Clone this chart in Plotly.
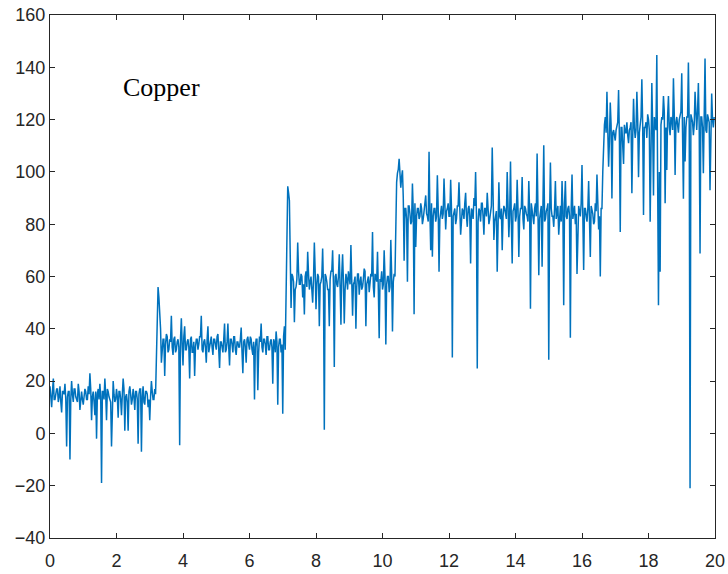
import numpy as np
import plotly.graph_objects as go

# Sampling interval of the recorded signal (s)
dt = 0.025

# Signal values, one segment per load step
seg_a = [18, 14, 10, 16, 21, 13, 13, 15, 17, 17, 12, 14, 18, 12, 8, 16, 16, 15, 19, 13,
         -5, 14, 16, 16, -10, 13, 20, 15, 12, 17, 17, 14, 13, 12, 19, 16, 9, 15, 16, 13,
         11, 14, 17, 16, 13, 13, 18, 15, 23, 17, 5, 14, 16, 12, 7, 16, -2, 15, 17, 13,
         19, 14, -19, 16, 16, 13, 21, 15, 5, 17, 16, 14, 13, 12, -5, 16, 20, 15, 12, 13,
         17, 14, 6, 16, 16, 13, 7, 15, 21, 17, 1, 14, 15, 12, 1, 16, 18, 15, 11, 13,
         17, 14, 9, 16, 16, 13, -4, 15, 17, 17, -7, 14, 18, 12, 11, 16, 16, 15, 10, 13,
         5, 14, 20, 16, 13, 13, 17, 15]
seg_b = [29, 45, 56, 52, 47, 40, 27, 33, 36, 36, 22, 34, 38, 37, 31, 32, 36, 35, 45, 33,
         30, 36, 37, 31, 32, 35, 36, 33, -4.5, 36, 44, 34, 26, 37, 41, 32, 32, 35, 36, 33,
         21, 36, 37, 31, 31, 35, 22, 33, 36, 36, 32, 34, 37, 37, 45, 32, 31, 35, 36, 33,
         27, 36, 41, 31, 33, 35, 37, 33, 30, 36, 36, 34, 32, 37, 38, 32, 25, 35, 35, 33,
         31, 36, 42, 31, 32, 35, 42, 33, 26, 36, 36, 34, 31, 37, 37, 32, 30, 35, 35, 33,
         33, 36, 40.5, 31, 23, 35, 36, 33, 27, 36, 37, 34, 32, 37, 36, 32, 30, 35, 13, 33,
         36, 36, 16.5, 31, 37, 35, 42, 33, 31, 36, 36, 34, 30, 37, 37, 32, 32, 35, 36, 33,
         19, 36, 35, 31, 39, 35, 11, 33, 36, 36, 31, 34, 7.5, 37, 41, 32]
seg_c = [62, 90, 94.5, 92, 89, 68, 48, 61, 60, 58, 42.5, 55, 56, 59, 73, 62, 57, 57, 61, 60,
         52, 57, 45.5, 60, 62, 56, 69.5, 61, 55, 58, 60, 55, 50, 59, 73, 62, 47.5, 57, 61, 60,
         41, 57, 58, 60, 70.7, 56, 1.4, 61, 60, 58, 55, 55, 41, 59, 62, 62, 70, 57, 25.4, 60,
         61, 57, 56, 60, 68.5, 56, 41.6, 61, 68.5, 58, 42, 55, 61, 59, 55, 62, 60, 57, 72, 60,
         45, 57, 58, 60, 40, 56, 61, 61, 53, 58, 60, 55, 56, 59, 63, 62, 41, 57, 59, 60,
         54, 57, 61, 60, 77, 56, 52, 61, 60, 58, 69.5, 55, 36.4, 59, 58, 62, 55, 57, 70, 60,
         34, 57, 60, 60, 54, 56, 74, 61, 39, 58, 61, 60]
seg_d = [84, 96, 99.5, 101, 105, 97, 94, 98, 100.6, 90, 66, 86, 86, 82, 58, 87, 87, 84, 80, 81,
         95.6, 85, 45.6, 88, 71.3, 83, 86, 86, 82, 83, 88, 86, 80, 82, 86, 87, 91, 84, 83, 81,
         107.7, 85, 70, 88, 67.6, 83, 86, 86, 81, 83, 98.7, 86, 61.8, 82, 85, 87, 82, 84, 97.5, 81,
         78, 85, 86, 88, 83, 83, 97, 86, 29, 83, 85, 86, 80, 82, 87, 87, 96, 84, 76, 81,
         86, 85, 82, 88, 92, 83, 79, 86, 87, 83, 65, 86, 85, 82, 90, 87, 100, 84, 24.8, 81,
         86, 85, 81, 88, 88, 83, 76, 86, 86, 83, 92, 86, 80, 82, 86, 87, 109.3, 84, 74, 81,
         83, 85, 61.8, 88, 96, 83, 82, 86, 70, 83, 87, 86, 83, 82, 100, 87, 75, 84, 104, 81,
         65, 85, 86, 88, 81, 83, 97, 86, 67.5, 83, 86, 86, 98, 82, 78, 87, 86, 84, 83, 81,
         96.5, 85, 47.7, 88, 85, 83, 80, 86, 88, 83, 107, 86, 60.5, 82, 86, 87, 63.7, 84, 110.2, 81,
         82, 85, 86, 88, 28.2, 83, 103.6, 86, 83, 83, 79, 86, 96.5, 82, 85, 87, 76, 84, 87, 81,
         96.5, 85, 49, 88, 96.5, 83, 82, 86, 87, 83, 36.6, 86, 99, 82, 84, 87, 80, 84, 61, 81,
         87, 85, 83, 88, 102.6, 83, 62.5, 86, 86, 83, 81, 86, 96.5, 82, 67.5, 87, 85, 84, 80, 81,
         88, 85, 99, 88, 78, 83, 60, 86]
seg_e = [86, 100, 111, 118, 121, 115, 130.6, 117, 102, 112, 126.5, 118, 89.8, 115, 116, 114, 112, 116, 118, 119,
         131.3, 113, 77, 117, 117, 112, 103, 118, 115, 115, 119, 114, 111, 116, 117, 119, 91.8, 113, 128, 117,
         113, 116, 130.6, 120, 98, 115, 118, 121, 135.4, 118, 83.5, 117, 117, 119, 113, 122, 120, 116, 80.9, 120,
         134, 117, 91, 121, 119, 116, 144.7, 110, 49, 100, 61.8, 118, 121, 120, 129, 123, 88, 117, 100.7, 121,
         129, 117, 114, 121, 120, 116, 135.8, 122, 98.8, 119, 121, 118, 115, 120, 122, 123, 137.7, 117, 89.7, 121,
         104, 117, 121, 121, 141.8, 118, -21, 122, 120, 119, 114, 118, 130.6, 120, 116, 123, 134, 117, 68.8, 121,
         121, 117, 99.5, 121, 143.4, 116, 115, 122, 120, 119, 93, 118, 130, 120, 117, 121]

y = np.array(seg_a + seg_b + seg_c + seg_d + seg_e, dtype=float)
t = np.round(np.arange(len(y)) * dt, 4)

x_ticks = [0, 2, 4, 6, 8, 10, 12, 14, 16, 18, 20]
y_ticks = [-40, -20, 0, 20, 40, 60, 80, 100, 120, 140, 160]
label_text = "Copper"

fig = go.Figure()
fig.add_trace(go.Scatter(x=t, y=y, mode="lines",
                         line=dict(color="#0072BD", width=1.5),
                         showlegend=False, hoverinfo="skip"))

axis_common = dict(showgrid=False, zeroline=False, showline=True, mirror="ticks",
                   linecolor="#262626", linewidth=1, ticks="inside", ticklen=5,
                   tickcolor="#262626", tickwidth=1, automargin=False,
                   tickfont=dict(family="Liberation Sans, Arial", size=18, color="#262626"))

fig.update_xaxes(range=[0, 20], tickvals=x_ticks, ticklabelstandoff=6, **axis_common)
fig.update_yaxes(range=[-40, 160], tickvals=y_ticks, **axis_common)

fig.add_annotation(x=2.15, y=132.4, xref="x", yref="y", text=label_text,
                   showarrow=False, xanchor="left", yanchor="middle",
                   font=dict(family="Liberation Serif, Times New Roman", size=26, color="#000000"))

fig.update_layout(width=728, height=574, margin=dict(l=50, r=13, t=15, b=36),
                  paper_bgcolor="white", plot_bgcolor="white")

fig.write_html("out.html")
